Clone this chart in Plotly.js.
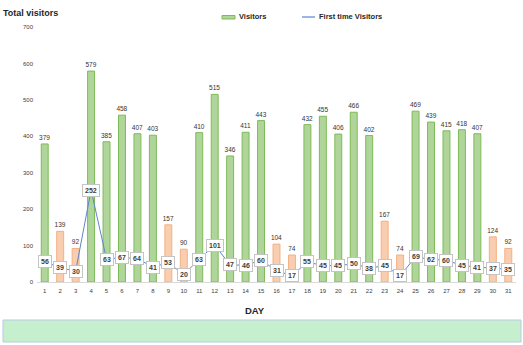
<!DOCTYPE html>
<html>
<head>
<meta charset="utf-8">
<script src="https://cdn.plot.ly/plotly-3.0.1.min.js"></script>
<style>html,body{margin:0;padding:0;background:#fff;}#chart{width:523px;height:345px;}</style>
</head>
<body>
<div id="chart"></div>
<script>
// ---- data ----
var days = [1,2,3,4,5,6,7,8,9,10,11,12,13,14,15,16,17,18,19,20,21,22,23,24,25,26,27,28,29,30,31];
var visitors = [379,139,92,579,385,458,407,403,157,90,410,515,346,411,443,104,74,432,455,406,466,402,167,74,469,439,415,418,407,124,92];
var firstTime = [56,39,30,252,63,67,64,41,53,20,63,101,47,46,60,31,17,55,45,45,50,38,45,17,69,62,60,45,41,37,35];
var weekendDays = [2,3,9,10,16,17,23,24,30,31];
var yTicks = [0,100,200,300,400,500,600,700];

// ---- styles ----
var FONT = 'Liberation Sans, Arial, sans-serif';
var greenFill = '#b0d59a', greenLine = '#7dbb57';
var orangeFill = '#f9cdb0', orangeLine = '#f2b184';
var lineColor = '#5a86d2';

var isWeekend = days.map(function(d){ return weekendDays.indexOf(d) >= 0; });
var barFill = isWeekend.map(function(w){ return w ? orangeFill : greenFill; });
var barLine = isWeekend.map(function(w){ return w ? orangeLine : greenLine; });

var L = 37, R = 7, T = 27, B = 63, W = 523, H = 345;
var pw = W - L - R, ph = H - T - B;
function px2x(px){ return (px - L) / pw; }
function px2y(py){ return (H - B - py) / ph; }

var traces = [
  {
    type: 'bar', name: 'Visitors', x: days, y: visitors,
    marker: {color: barFill, line: {color: barLine, width: 1}},
    text: visitors.map(String), textposition: 'outside', cliponaxis: false,
    constraintext: 'none',
    textfont: {family: FONT, size: 6.5, color: '#333333'},
    showlegend: false, hoverinfo: 'x+y'
  },
  {
    type: 'scatter', mode: 'lines', name: 'First time Visitors', x: days, y: firstTime,
    line: {color: lineColor, width: 1}, showlegend: false, cliponaxis: false
  }
];

var annotations = firstTime.map(function(v, i){
  return {
    x: days[i], y: v, xref: 'x', yref: 'y', text: '<b>' + v + '</b>', showarrow: false,
    bgcolor: '#ffffff', bordercolor: '#c4c4c4', borderwidth: 1, borderpad: 2,
    font: {family: FONT, size: 7, color: '#404040'}, xanchor: 'center', yanchor: 'middle'
  };
});
annotations.push({
  x: px2x(255), y: px2y(310), xref: 'paper', yref: 'paper', text: '<b>DAY</b>', showarrow: false,
  font: {family: FONT, size: 9.5, color: '#262626'}, xanchor: 'center', yanchor: 'middle'
});
annotations.push({
  x: px2x(237), y: px2y(17), xref: 'paper', yref: 'paper', text: '<b>Visitors</b>', showarrow: false,
  font: {family: FONT, size: 7.5, color: '#262626'}, xanchor: 'left', yanchor: 'middle'
});
annotations.push({
  x: px2x(317), y: px2y(17), xref: 'paper', yref: 'paper', text: '<b>First time Visitors</b>', showarrow: false,
  font: {family: FONT, size: 7.5, color: '#262626'}, xanchor: 'left', yanchor: 'middle'
});

var shapes = [
  {type: 'rect', xref: 'paper', yref: 'paper', x0: px2x(3), x1: px2x(521), y0: px2y(342), y1: px2y(320),
   fillcolor: '#c6efce', line: {color: '#b9c9e6', width: 1}, layer: 'below'},
  {type: 'rect', xref: 'paper', yref: 'paper', x0: px2x(222), x1: px2x(235), y0: px2y(19), y1: px2y(15.5),
   fillcolor: greenFill, line: {color: greenLine, width: 1}},
  {type: 'line', xref: 'paper', yref: 'paper', x0: px2x(302), x1: px2x(315), y0: px2y(17), y1: px2y(17),
   line: {color: lineColor, width: 1.2}}
];

var layout = {
  width: W, height: H,
  margin: {l: L, r: R, t: T, b: B},
  paper_bgcolor: '#ffffff', plot_bgcolor: '#ffffff',
  font: {family: FONT, color: '#404040'},
  title: {text: '<b>Total visitors</b>', x: 3 / W, xanchor: 'left', xref: 'container',
          y: 1 - 13 / H, yanchor: 'middle', yref: 'container',
          font: {family: FONT, size: 9, color: '#262626'}},
  bargap: 0.55,
  showlegend: false,
  xaxis: {
    range: [0.5, 31.5], tickmode: 'array', tickvals: days, ticktext: days.map(String),
    showgrid: false, zeroline: false, showline: true, linecolor: '#d9d9d9', linewidth: 1,
    ticks: '', tickfont: {family: FONT, size: 6, color: '#404040'}, ticklabelstandoff: 3,
    fixedrange: true
  },
  yaxis: {
    range: [0, 700], tickmode: 'array', tickvals: yTicks, ticktext: yTicks.map(String),
    showgrid: false, zeroline: false, showline: false, ticks: '',
    tickfont: {family: FONT, size: 6, color: '#404040'}, ticklabelstandoff: 3,
    fixedrange: true
  },
  annotations: annotations,
  shapes: shapes
};

Plotly.newPlot('chart', traces, layout, {displayModeBar: false, staticPlot: true});
</script>
</body>
</html>
